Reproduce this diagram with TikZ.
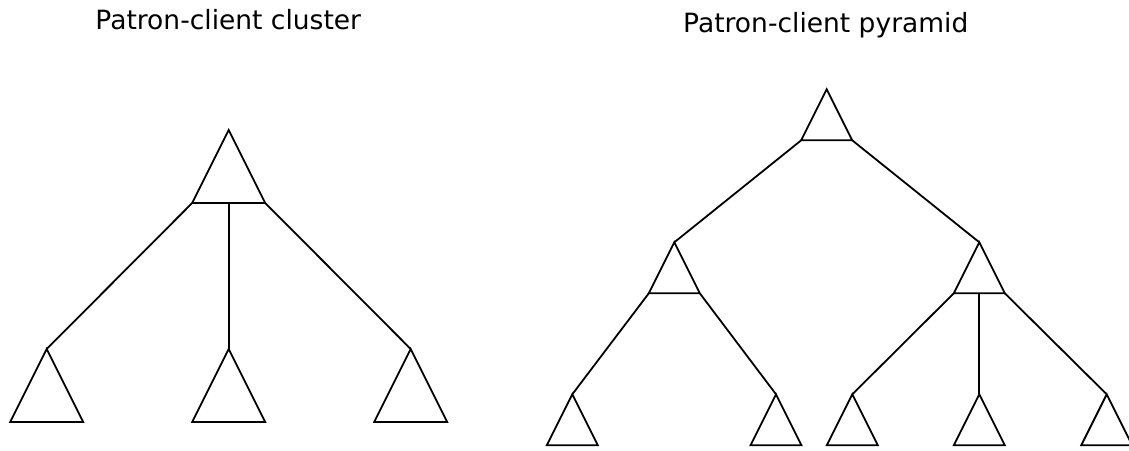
\documentclass[tikz,border=0pt]{standalone}
\usepackage{fontspec}
\setmainfont{DejaVu Sans}
\usetikzlibrary{shapes.geometric, positioning}
\newcommand*{\bigSize}{73pt}
\newcommand*{\smallSize}{51pt}
\tikzset{
    tri/.style      = {draw, isosceles triangle, isosceles triangle stretches, shape border rotate=90, inner sep=0pt, outer sep=0pt, line width=1.8pt},
    bigtri/.style   = {tri, minimum width=\bigSize, minimum height=\bigSize, anchor=apex},
    smalltri/.style = {tri, minimum width=\smallSize, minimum height=\smallSize, anchor=apex},
    link/.style     = {line width=1.8pt},
    title/.style    = {font=\fontsize{26.5}{30}\selectfont, anchor=base}
}

\begin{document}
\begin{tikzpicture}[x=1pt, y=-1pt]
	\useasboundingbox (0,0) rectangle (1129,450);

	% patron-client cluster
	\node (clTitle) [title] at (228.3,29.3) {Patron-client cluster};
	\node (clTop)   [bigtri] at (228.7,130) {};
	\node (clLeft)  [bigtri] at (46.7,349) {};
	\node (clMid)   [bigtri] at (228.7,349) {};
	\node (clRight) [bigtri] at (410.7,349) {};

	\draw [link] (clTop.left corner)  -- (clLeft.apex);
	\draw [link] (clTop.lower side)   -- (clMid.apex);
	\draw [link] (clTop.right corner) -- (clRight.apex);

	% patron-client pyramid
	\node (pyTitle) [title] at (825.8,32.3) {Patron-client pyramid};
	\node (pyTop)   [smalltri] at (826.7,89.3) {};
	\node (pyL)     [smalltri] at (674.3,242.3) {};
	\node (pyR)     [smalltri] at (979.3,242.3) {};
	\node (pyLL)    [smalltri] at (572.3,394.3) {};
	\node (pyLR)    [smalltri] at (776,394.3) {};
	\node (pyRL)    [smalltri] at (852.3,394.3) {};
	\node (pyRM)    [smalltri] at (979.3,394.3) {};
	\node (pyRR)    [smalltri] at (1106.7,394.3) {};

	\draw [link] (pyTop.left corner)  -- (pyL.apex);
	\draw [link] (pyTop.right corner) -- (pyR.apex);
	\draw [link] (pyL.left corner)    -- (pyLL.apex);
	\draw [link] (pyL.right corner)   -- (pyLR.apex);
	\draw [link] (pyR.left corner)    -- (pyRL.apex);
	\draw [link] (pyR.lower side)     -- (pyRM.apex);
	\draw [link] (pyR.right corner)   -- (pyRR.apex);
\end{tikzpicture}
\end{document}
